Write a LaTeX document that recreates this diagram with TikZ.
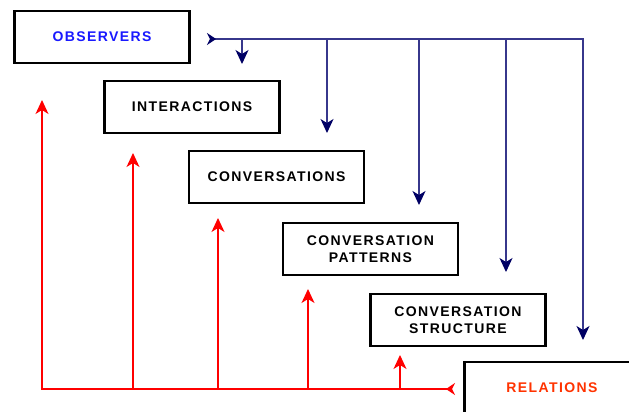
\documentclass[tikz,border=0pt]{standalone}
\usepackage{fontspec}
\setmainfont{Liberation Sans}
\usetikzlibrary{arrows.meta}
\definecolor{navyline}{RGB}{55,55,140}
\definecolor{navytip}{RGB}{0,0,100}
\definecolor{obsblue}{RGB}{25,25,255}
\definecolor{relred}{RGB}{255,51,0}
\definecolor{redline}{RGB}{255,0,0}
\begin{document}
\begin{tikzpicture}[x=1pt,y=-1pt,
  box/.style={draw=black, line width=2.2pt, fill=white, minimum width=175pt, minimum height=52pt,
    inner sep=0pt, align=center,
    font=\fontsize{14pt}{17pt}\selectfont\bfseries\addfontfeature{LetterSpace=10}},
  blueline/.style={draw=navyline, line width=1.2pt},
  bluearrow/.style={blueline, -{Stealth[length=14pt,width=13pt,inset=4pt,color=navytip]}},
  redarrow/.style={draw=redline, line width=1.2pt, -{Stealth[length=14pt,width=13pt,inset=4pt]}},
  redline/.style={draw=redline, line width=1.2pt}]
\useasboundingbox (0,0) rectangle (629,412);
\clip (0,0) rectangle (629,412);
\fill[white] (0,0) rectangle (629,412);

\node[box, text=obsblue] (obs) at (102,37) {OBSERVERS};
\node[box] (int) at (192,107) {INTERACTIONS};
\node[box] (conv) at (276.5,177) {CONVERSATIONS};
\node[box] (cp) at (370.5,249) {CONVERSATION\\PATTERNS};
\node[box] (cs) at (458,320) {CONVERSATION\\STRUCTURE};
\node[box, text=relred] (rel) at (552,388) {RELATIONS};

% blue observer lines
\coordinate (bstart) at (207,39);
\coordinate (bcorner) at (583,39);
\coordinate (bj1) at (242,39);
\coordinate (bj2) at (327,39);
\coordinate (bj3) at (419,39);
\coordinate (bj4) at (506,39);
\coordinate (bt1) at (242,64);
\coordinate (bt2) at (327,133);
\coordinate (bt3) at (419,205);
\coordinate (bt4) at (506,272);
\coordinate (bt5) at (583,340);
\draw[bluearrow, {Stealth[length=9pt,width=12pt,inset=3pt,reversed,color=navytip]}-{Stealth[length=14pt,width=13pt,inset=4pt,color=navytip]}] (bstart) -- (bcorner) -- (bt5);
\draw[bluearrow] (bj1) -- (bt1);
\draw[bluearrow] (bj2) -- (bt2);
\draw[bluearrow] (bj3) -- (bt3);
\draw[bluearrow] (bj4) -- (bt4);

% red relation lines
\coordinate (rcorner) at (42,389);
\coordinate (rend) at (455,389);
\coordinate (rj1) at (133,389);
\coordinate (rj2) at (218,389);
\coordinate (rj3) at (308,389);
\coordinate (rj4) at (400,389);
\coordinate (rt0) at (42,100);
\coordinate (rt1) at (133,153);
\coordinate (rt2) at (218,218);
\coordinate (rt3) at (308,289);
\coordinate (rt4) at (400,355);
\draw[redline, {Stealth[length=14pt,width=13pt,inset=4pt]}-{Stealth[length=9pt,width=12pt,inset=3pt,reversed]}] (rt0) -- (rcorner) -- (rend);
\draw[redarrow] (rj1) -- (rt1);
\draw[redarrow] (rj2) -- (rt2);
\draw[redarrow] (rj3) -- (rt3);
\draw[redarrow] (rj4) -- (rt4);
\end{tikzpicture}
\end{document}
